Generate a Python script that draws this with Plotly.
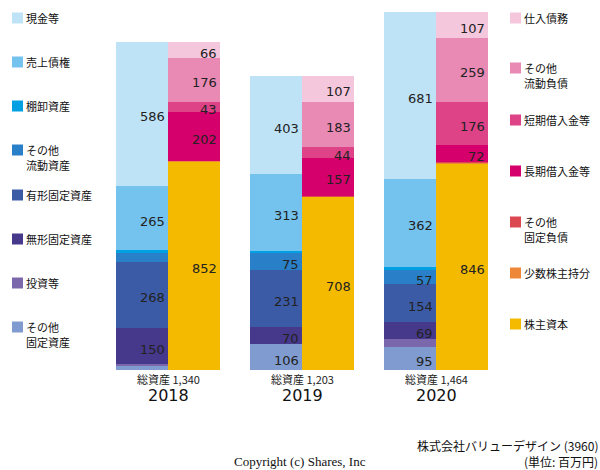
import plotly.graph_objects as go

years = ["2018", "2019", "2020"]
totals = [1340, 1203, 1464]

asset_names = ["その他<br>固定資産", "投資等", "無形固定資産", "有形固定資産",
               "その他<br>流動資産", "棚卸資産", "売上債権", "現金等"]
asset_colors = ["#7F9BD0", "#7B68AC", "#46388A", "#3C5BA6",
                "#2A80C8", "#00A0E2", "#74C2EE", "#BEE2F6"]
other_fixed_assets = [20, 106, 95]
investments = [3, 0, 32]
intangible = [150, 70, 69]
tangible = [268, 231, 154]
other_current_assets = [37, 75, 57]
inventory = [11, 5, 14]
receivables = [265, 313, 362]
cash = [586, 403, 681]
assets = [other_fixed_assets, investments, intangible, tangible,
          other_current_assets, inventory, receivables, cash]

liab_names = ["株主資本", "少数株主持分", "その他<br>固定負債", "長期借入金等",
              "短期借入金等", "その他<br>流動負債", "仕入債務"]
liab_colors = ["#F4BA00", "#EE8838", "#DC4850", "#D5006B",
               "#DE4388", "#E98AB5", "#F4C7DD"]
equity = [852, 708, 846]
minority = [1, 3, 2]
other_fixed_liab = [0, 1, 2]
long_debt = [202, 157, 72]
short_debt = [43, 44, 176]
other_current_liab = [176, 183, 259]
payables = [66, 107, 107]
liabs = [equity, minority, other_fixed_liab, long_debt,
         short_debt, other_current_liab, payables]

W = 0.388
xa = [i - W / 2 for i in range(3)]
xl = [i + W / 2 for i in range(3)]

FONT = "DejaVu Sans, Noto Sans CJK JP, sans-serif"
JFONT = "Noto Sans CJK JP, DejaVu Sans, sans-serif"

# plot area in pixels
PL, PR, PT, PB = 101, 503, 12, 370

def px_x(px):
    return (px - PL) / (PR - PL)

def px_y(py):
    return (PB - py) / (PB - PT)

fig = go.Figure()
annotations = []
shapes = []

def add_stack(xs, series, names, colors):
    cum = [0, 0, 0]
    for vals, name, col in zip(series, names, colors):
        fig.add_trace(go.Bar(x=xs, y=vals, width=W, marker=dict(color=col, line=dict(width=0)),
                             name=name.replace("<br>", ""), showlegend=False))
        for i, v in enumerate(vals):
            if v >= 40:
                annotations.append(dict(x=xs[i] + W / 2, y=cum[i] + v / 2, xref="x", yref="y",
                                        text=str(v), showarrow=False, xanchor="right",
                                        yanchor="middle", xshift=-1, yshift=-3,
                                        font=dict(family=FONT, size=13, color="#222")))
            cum[i] += v

add_stack(xa, assets, asset_names, asset_colors)
add_stack(xl, liabs, liab_names, liab_colors)

for i, (yr, t) in enumerate(zip(years, totals)):
    annotations.append(dict(x=i, y=0, xref="x", yref="y", text=f"総資産 {t:,}", showarrow=False,
                            yanchor="middle", yshift=-9, font=dict(family=JFONT, size=11, color="#222")))
    annotations.append(dict(x=i, y=0, xref="x", yref="y", text=yr, showarrow=False,
                            yanchor="middle", yshift=-25, font=dict(family=FONT, size=16, color="#111")))

def legend_item(name, col, sq_x, py):
    shapes.append(dict(type="rect", xref="paper", yref="paper",
                       x0=px_x(sq_x), x1=px_x(sq_x + 11), y0=px_y(py + 5.5), y1=px_y(py - 5.5),
                       fillcolor=col, line=dict(width=0)))
    for k, line in enumerate(name.split("<br>")):
        annotations.append(dict(x=px_x(sq_x + 13), y=px_y(py + 15 * k), xref="paper", yref="paper",
                                text=line, showarrow=False, xanchor="left", yanchor="middle",
                                borderpad=0,
                                font=dict(family=JFONT, size=11, color="#111")))

left_y = [18, 62, 106, 150, 195, 239, 283, 327]
for (name, col), py in zip(zip(asset_names[::-1], asset_colors[::-1]), left_y):
    legend_item(name, col, 12, py)

right_y = [18, 68, 120, 171, 222, 273, 324]
for (name, col), py in zip(zip(liab_names[::-1], liab_colors[::-1]), right_y):
    legend_item(name, col, 510, py)

annotations.append(dict(x=px_x(300), y=px_y(461), xref="paper", yref="paper",
                        text="Copyright (c) Shares, Inc", showarrow=False, xanchor="center",
                        yanchor="middle", font=dict(family="Liberation Serif, serif", size=13, color="#111")))
annotations.append(dict(x=px_x(599), y=px_y(445), xref="paper", yref="paper",
                        text="株式会社バリューデザイン (3960)", showarrow=False,
                        xanchor="right", yanchor="middle", borderpad=0,
                        font=dict(family=JFONT, size=12, color="#111")))
annotations.append(dict(x=px_x(599), y=px_y(461), xref="paper", yref="paper",
                        text="(単位: 百万円)", showarrow=False,
                        xanchor="right", yanchor="middle", borderpad=0,
                        font=dict(family=JFONT, size=12, color="#111")))

fig.update_layout(
    width=600, height=470,
    margin=dict(l=PL, r=600 - PR, t=PT, b=470 - PB, pad=0),
    barmode="stack",
    plot_bgcolor="white", paper_bgcolor="white",
    xaxis=dict(range=[-0.5, 2.5], visible=False, fixedrange=True),
    yaxis=dict(range=[0, 1464], visible=False, fixedrange=True),
    annotations=annotations, shapes=shapes,
    showlegend=False,
)

fig.write_html("out.html", config={"displayModeBar": False},
               post_script="document.body.style.margin='0';")
